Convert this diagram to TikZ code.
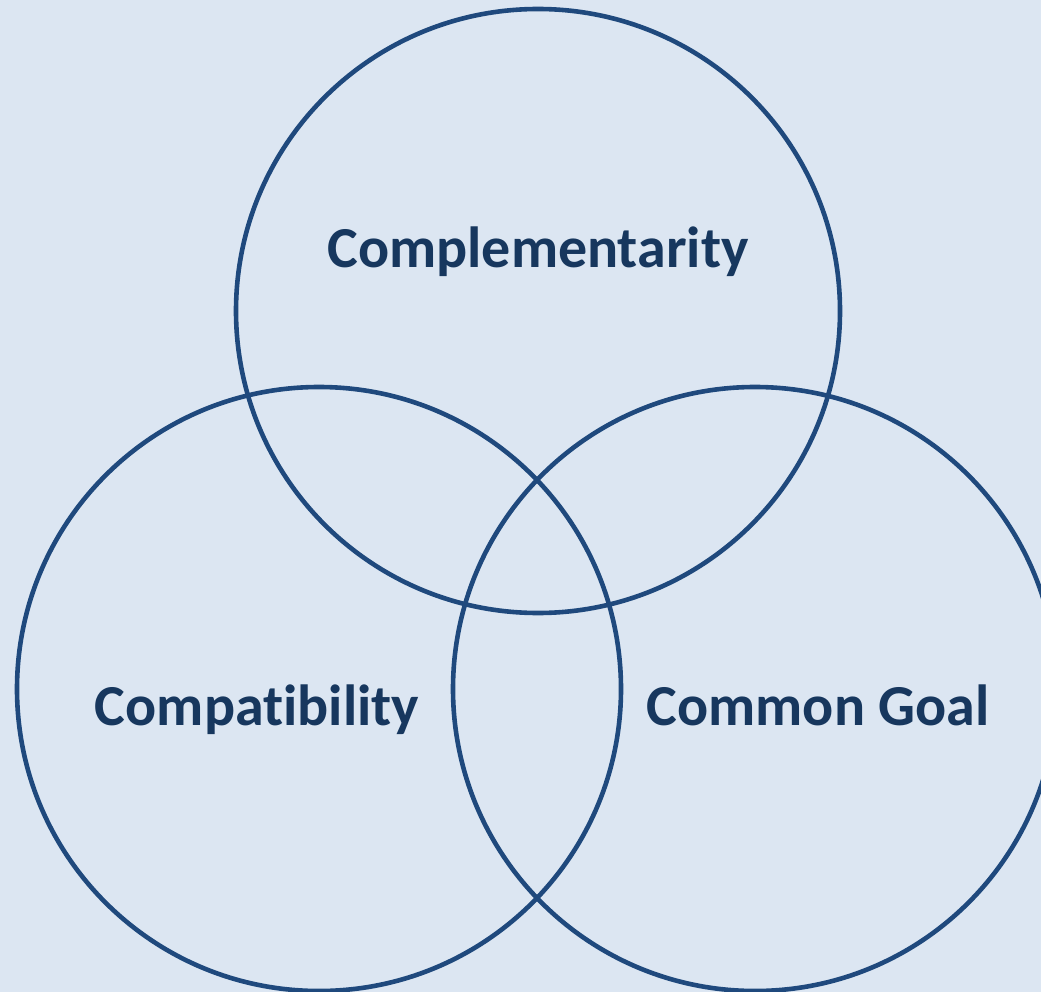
\documentclass[tikz,border=0pt]{standalone}
\usepackage{fontspec}
\setmainfont[Ligatures=NoCommon]{Carlito}
\usepackage{tikz}
\definecolor{bgblue}{HTML}{DCE6F2}
\definecolor{ringblue}{HTML}{1F497D}
\definecolor{textblue}{HTML}{17375E}

\begin{document}
\begin{tikzpicture}[x=1pt,y=-1pt,
  ring/.style={circle,draw=ringblue,line width=4.6pt,minimum size=604pt,inner sep=0pt},
  tag/.style={text=textblue,font=\fontsize{58}{70}\selectfont\bfseries,anchor=base}]
  \fill [bgblue] (0,0) rectangle (1041,992);
  \useasboundingbox (0,0) rectangle (1041,992);
  \clip (0,0) rectangle (1041,992);
  % the three rings
  \node [ring] (top) at (538,311) {};
  \node [ring] (left) at (319,689) {};
  \node [ring] (right) at (755,689) {};
  % their labels
  \node [tag] (tcompl) at (538,268) {Complementarity};
  \node [tag] (tcompat) at (257,725) {Compatibility};
  \node [tag] (tgoal) at (818,725) {Common Goal};
\end{tikzpicture}
\end{document}
